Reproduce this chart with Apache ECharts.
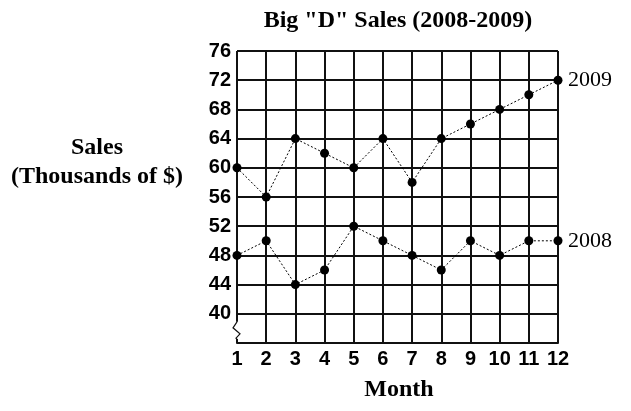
<!DOCTYPE html>
<html>
<head>
<meta charset="utf-8">
<script src="https://cdn.jsdelivr.net/npm/echarts@6/dist/echarts.min.js"></script>
<style>
  html, body { margin: 0; padding: 0; background: #fff; }
  #main { width: 631px; height: 411px; }
</style>
</head>
<body>
<div id="main"></div>
<script>
// data
var months = ['1', '2', '3', '4', '5', '6', '7', '8', '9', '10', '11', '12'];
var sales2009 = [60, 56, 64, 62, 60, 64, 58, 64, 66, 68, 70, 72];
var sales2008 = [48, 50, 44, 46, 52, 50, 48, 46, 50, 48, 50, 50];
var yTicks = [40, 44, 48, 52, 56, 60, 64, 68, 72, 76];

var serif = '"Liberation Serif", "DejaVu Serif", serif';
var sans = '"Liberation Sans", Arial, sans-serif';

var chart = echarts.init(document.getElementById('main'));

function lineSeries (name, data) {
    return {
        name: name,
        type: 'line',
        data: data,
        symbol: 'circle',
        symbolSize: 9,
        itemStyle: { color: '#000' },
        lineStyle: { color: '#000', width: 1, type: [2, 2] },
        endLabel: {
            show: true,
            formatter: '{a}',
            distance: 10,
            fontFamily: serif,
            fontSize: 22,
            color: '#000'
        },
        animation: false
    };
}

var option = {
    backgroundColor: '#fff',
    title: [{
        text: 'Big "D" Sales (2008-2009)',
        left: 393,
        top: 4,
        textAlign: 'center',
        textStyle: { fontFamily: serif, fontWeight: 'bold', fontSize: 24, color: '#000' }
    }, {
        text: 'Sales\n(Thousands of $)',
        left: 92,
        top: 128,
        textAlign: 'center',
        textStyle: { fontFamily: serif, fontWeight: 'bold', fontSize: 24, lineHeight: 29, color: '#000', align: 'center' }
    }, {
        text: 'Month',
        left: 394,
        top: 373,
        textAlign: 'center',
        textStyle: { fontFamily: serif, fontWeight: 'bold', fontSize: 24, color: '#000' }
    }],
    grid: { left: 237, right: 73, top: 51, bottom: 68 },
    xAxis: {
        type: 'category',
        data: months,
        boundaryGap: false,
        axisLine: { show: true, lineStyle: { color: '#111', width: 2 } },
        axisTick: { show: false },
        axisLabel: { fontFamily: sans, fontWeight: 'bold', fontSize: 20, color: '#000', margin: 6 },
        splitLine: { show: true, lineStyle: { color: '#111', width: 2 } }
    },
    yAxis: {
        type: 'value',
        min: 36,
        max: 76,
        interval: 4,
        axisLine: { show: false },
        axisTick: { show: false },
        axisLabel: {
            fontFamily: sans, fontWeight: 'bold', fontSize: 20, color: '#000', margin: 6,
            formatter: function (v) { return yTicks.indexOf(v) >= 0 ? String(v) : ''; }
        },
        splitLine: { show: true, lineStyle: { color: '#111', width: 2 } }
    },
    series: [lineSeries('2009', sales2009), lineSeries('2008', sales2008)]
};

chart.setOption(option);

// axis break on the left edge between 40 and the bottom line
var top40 = chart.convertToPixel({ gridIndex: 0 }, [0, 40]);
var bottom = chart.convertToPixel({ gridIndex: 0 }, [0, 36]);
var x0 = top40[0];
var yA = top40[1] + 8;
var yB = bottom[1] - 4;
var h = yB - yA;
chart.setOption({
    graphic: [{
        type: 'rect',
        shape: { x: x0 - 3, y: yA, width: 5, height: h },
        style: { fill: '#fff' },
        z: 100
    }, {
        type: 'polyline',
        shape: {
            points: [
                [x0, yA], [x0 - 4, yA + h * 0.35], [x0 + 3, yA + h * 0.7],
                [x0 - 1, yA + h * 0.95], [x0, yB]
            ]
        },
        style: { stroke: '#111', lineWidth: 1.2, fill: null },
        z: 101
    }]
});
</script>
</body>
</html>
